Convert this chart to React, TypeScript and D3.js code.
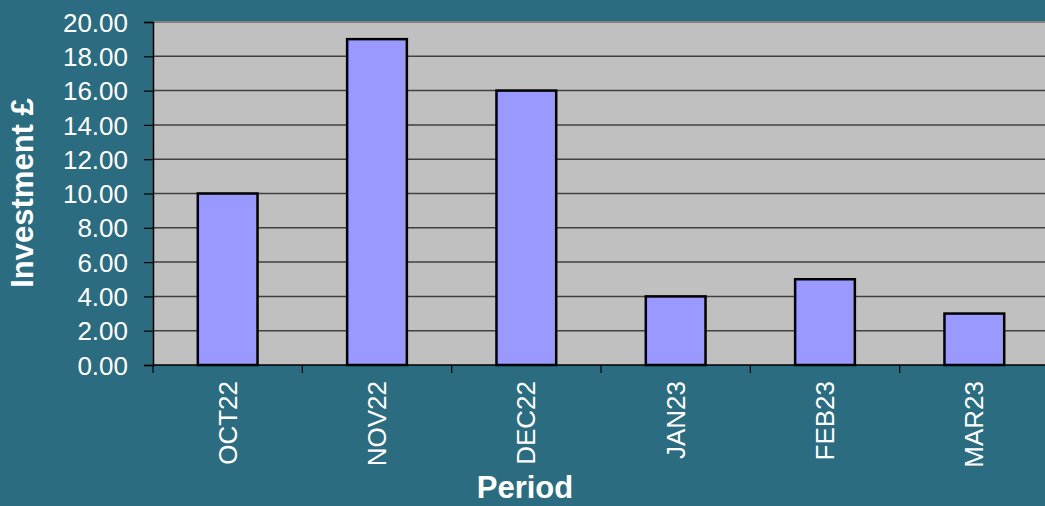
import { useEffect, useRef } from "react";
import * as d3 from "d3";

const periods = ["OCT22", "NOV22", "DEC22", "JAN23", "FEB23", "MAR23"];
const investment = [10, 19, 16, 4, 5, 3];
const yTicks = [0, 2, 4, 6, 8, 10, 12, 14, 16, 18, 20];

export default function App() {
  const width = 1045;
  const height = 506;
  const marginTop = 22;
  const marginLeft = 153;
  const plotRight = 1049;
  const plotBottom = 365;
  const ref = useRef<SVGSVGElement>(null);

  useEffect(() => {
    const svg = d3.select(ref.current);
    svg.selectAll("*").remove();

    const xScale = d3
      .scaleBand()
      .domain(periods)
      .range([marginLeft, plotRight])
      .padding(0);

    const yScale = d3
      .scaleLinear()
      .domain([0, 20])
      .range([plotBottom, marginTop]);

    // background
    svg
      .append("rect")
      .attr("width", width)
      .attr("height", height)
      .attr("fill", "#2B6C80");

    // plot area
    svg
      .append("rect")
      .attr("x", marginLeft)
      .attr("y", marginTop)
      .attr("width", plotRight - marginLeft)
      .attr("height", plotBottom - marginTop)
      .attr("fill", "#C0C0C0");

    // gridlines
    svg
      .append("g")
      .selectAll("line")
      .data(yTicks.filter((d) => d > 0))
      .enter()
      .append("line")
      .attr("x1", marginLeft)
      .attr("x2", plotRight)
      .attr("y1", (d) => yScale(d))
      .attr("y2", (d) => yScale(d))
      .attr("stroke", (d) => (d === 20 ? "#808080" : "#404040"))
      .attr("stroke-width", (d) => (d === 20 ? 2 : 1.5));

    // y axis
    svg
      .append("g")
      .attr("transform", `translate(${marginLeft}, 0)`)
      .call(
        d3
          .axisLeft(yScale)
          .tickValues(yTicks)
          .tickSize(9)
          .tickPadding(16)
          .tickFormat((d) => d3.format(".2f")(d as number)),
      )
      .call((g) => g.select(".domain").attr("stroke", "#000").attr("stroke-width", 1.5))
      .call((g) => g.selectAll(".tick line").attr("stroke", "#000").attr("stroke-width", 1.2))
      .call((g) =>
        g
          .selectAll(".tick text")
          .attr("fill", "#fff")
          .attr("dy", "0.35em")
          .style("font-family", "Liberation Sans, Arial, sans-serif")
          .style("font-size", "26px"),
      );

    // bars
    const barWidth = xScale.bandwidth() * 0.4;
    svg
      .append("g")
      .selectAll("rect")
      .data(periods)
      .enter()
      .append("rect")
      .attr("x", (d) => xScale(d)! + (xScale.bandwidth() - barWidth) / 2)
      .attr("y", (d, i) => yScale(investment[i]))
      .attr("width", barWidth)
      .attr("height", (d, i) => plotBottom - yScale(investment[i]))
      .attr("fill", "#9999FF")
      .attr("stroke", "#000")
      .attr("stroke-width", 2.5);

    // x axis line + ticks between categories
    const boundaries = periods.map((d) => xScale(d)!).concat([plotRight]);
    svg
      .append("line")
      .attr("x1", marginLeft)
      .attr("x2", plotRight)
      .attr("y1", plotBottom)
      .attr("y2", plotBottom)
      .attr("stroke", "#000")
      .attr("stroke-width", 1.5);
    svg
      .append("g")
      .selectAll("line")
      .data(boundaries)
      .enter()
      .append("line")
      .attr("x1", (d) => d)
      .attr("x2", (d) => d)
      .attr("y1", plotBottom)
      .attr("y2", plotBottom + 8)
      .attr("stroke", "#000")
      .attr("stroke-width", 1.2);

    // x labels (rotated)
    svg
      .append("g")
      .selectAll("text")
      .data(periods)
      .enter()
      .append("text")
      .attr(
        "transform",
        (d) => `translate(${xScale(d)! + xScale.bandwidth() / 2}, 381) rotate(-90)`,
      )
      .attr("text-anchor", "end")
      .attr("dy", "0.35em")
      .attr("fill", "#fff")
      .style("font-family", "Liberation Sans, Arial, sans-serif")
      .style("font-size", "26px")
      .text((d) => d);

    // axis titles
    svg
      .append("text")
      .attr("x", 525)
      .attr("y", 498)
      .attr("text-anchor", "middle")
      .attr("fill", "#fff")
      .style("font-family", "Liberation Sans, Arial, sans-serif")
      .style("font-size", "31px")
      .style("font-weight", "bold")
      .text("Period");

    svg
      .append("text")
      .attr("transform", "translate(33, 193) rotate(-90)")
      .attr("text-anchor", "middle")
      .attr("fill", "#fff")
      .style("font-family", "Liberation Sans, Arial, sans-serif")
      .style("font-size", "31px")
      .style("font-weight", "bold")
      .text("Investment £");
  }, []);

  return (
    <svg
      ref={ref}
      width={width}
      height={height}
      style={{ position: "absolute", left: 0, top: 0, display: "block" }}
    />
  );
}
